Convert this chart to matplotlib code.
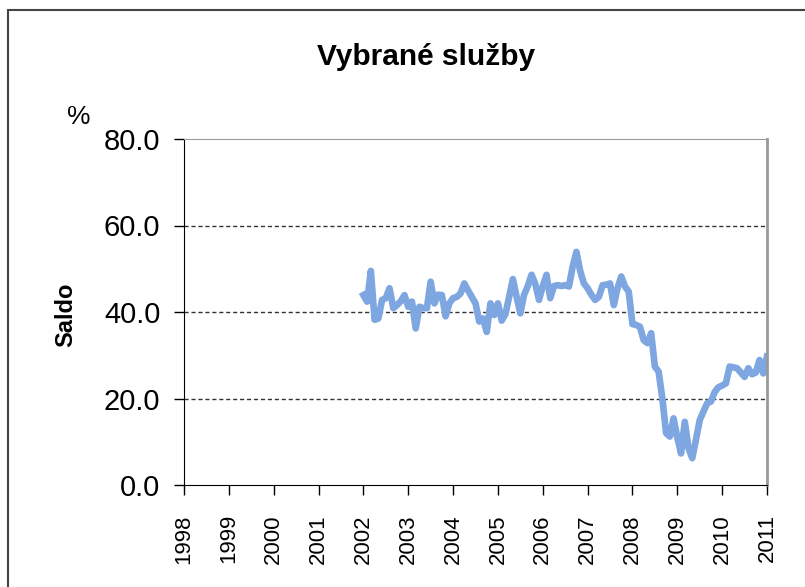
import matplotlib
matplotlib.use('Agg')
import matplotlib.pyplot as plt
from matplotlib.patches import Rectangle
import numpy as np

plt.rcParams['font.family'] = ['Liberation Sans', 'DejaVu Sans']

# monthly balance, 2002-01 .. 2011-01
saldo = [
    43.9, 42.4, 49.5, 38.2, 38.5, 42.8, 43.2, 45.5, 40.9, 41.6, 42.5, 43.9,
    41.2, 42.4, 36.2, 41.2, 40.9, 40.9, 47.0, 42.0, 44.0, 43.9, 39.0, 42.0,
    43.2, 43.5, 44.3, 46.6, 45.0, 43.5, 42.0, 37.8, 38.5, 35.4, 42.0, 39.3,
    42.0, 38.0, 39.5, 43.5, 47.6, 43.5, 39.7, 44.0, 46.0, 48.6, 46.5, 42.8,
    46.0, 48.6, 43.2, 46.0, 46.2, 46.0, 46.2, 45.9, 50.5, 53.9, 49.5, 46.6,
    45.5, 44.0, 42.8, 43.5, 46.2, 46.3, 46.6, 41.6, 45.5, 48.2, 45.9, 44.7,
    37.2, 37.0, 36.6, 33.5, 32.8, 35.1, 27.4, 26.2, 20.0, 12.0, 11.2, 15.4,
    11.0, 7.3, 14.6, 8.5, 6.2, 10.5, 15.0, 17.0, 18.9, 19.3, 21.5, 22.6,
    23.0, 23.5, 27.4, 27.2, 27.0, 26.0, 25.0, 27.0, 25.6, 26.0, 28.9, 25.8,
    29.7,
]
years = list(range(1998, 2012))
start_year = 2002

t = start_year + np.arange(len(saldo)) / 12.0

fig = plt.figure(figsize=(8.05, 5.87), dpi=100)
fig.patches.append(Rectangle((8 / 805, -0.1), 1.2, 1.1 - 10 / 587, transform=fig.transFigure,
                             fill=False, edgecolor='#444444', linewidth=1.5))

ax = fig.add_axes([184 / 805, 1 - 485 / 587, 583 / 805, 346 / 587])
ax.plot(t, saldo, color='#7EA6E0', linewidth=4.8, solid_joinstyle='round')

ax.set_xlim(1998, 2011)
ax.set_ylim(0, 80)
ax.set_xticks(years)
ax.set_xticklabels([str(y) for y in years], rotation=90, fontsize=16)
ax.set_yticks([0, 20, 40, 60, 80])
ax.set_yticklabels(['%.1f' % v for v in [0, 20, 40, 60, 80]], fontsize=21)
ax.tick_params(direction='out', length=7, width=1, color='black')
ax.tick_params(axis='x', pad=14)
ax.tick_params(axis='y', pad=10)

for v in [20, 40, 60]:
    ax.axhline(v, color='#333333', linestyle=(0, (3, 2)), linewidth=1, zorder=0)

ax.spines['left'].set_color('black')
ax.spines['bottom'].set_color('black')
ax.spines['top'].set_color('#999999')
ax.spines['right'].set_color('#999999')
ax.spines['right'].set_linewidth(2)

fig.text(426 / 805, 1 - 57 / 587, 'Vybrané služby', fontsize=21.5, fontweight='bold',
         ha='center', va='center')
fig.text(79 / 805, 1 - 117 / 587, '%', fontsize=19, ha='center', va='center')
fig.text(66 / 805, 1 - 315 / 587, 'Saldo', fontsize=17, fontweight='bold', rotation=90,
         ha='center', va='center')

fig.savefig('out.png', dpi=100)
